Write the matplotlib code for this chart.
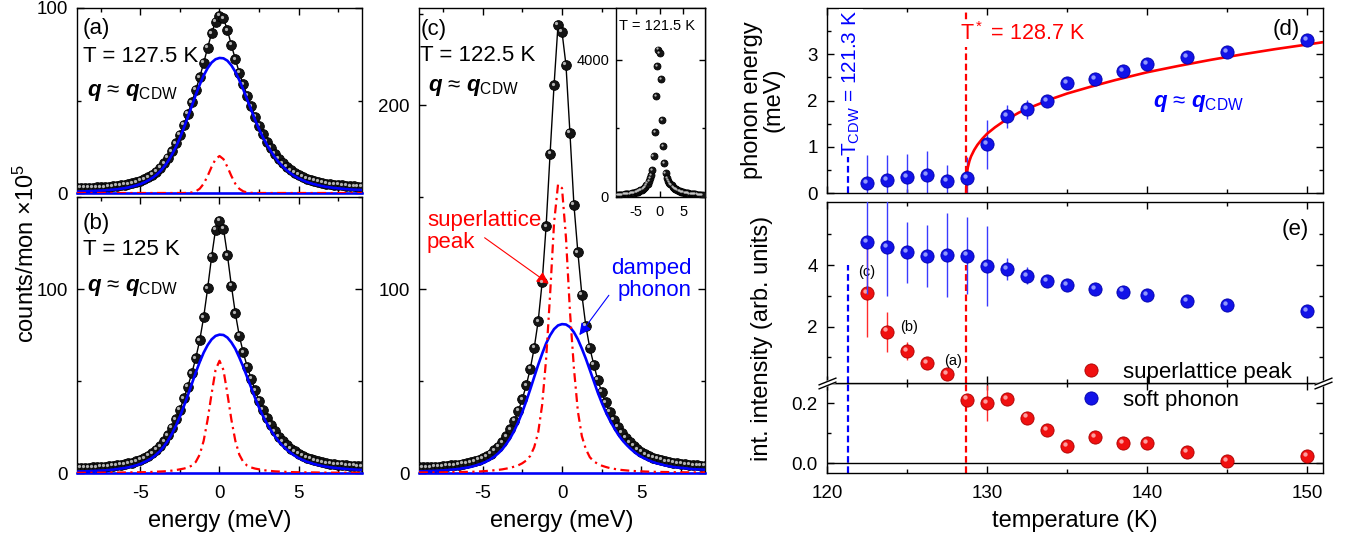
import numpy as np
import matplotlib.pyplot as plt
from matplotlib import transforms
from matplotlib.lines import Line2D
from matplotlib.ticker import FormatStrFormatter

plt.rcParams['font.family'] = ['Liberation Sans', 'DejaVu Sans']
plt.rcParams['mathtext.fontset'] = 'custom'
plt.rcParams['mathtext.rm'] = 'Liberation Sans'
plt.rcParams['mathtext.it'] = 'Liberation Sans:italic'
plt.rcParams['mathtext.bf'] = 'Liberation Sans:bold'
plt.rcParams['mathtext.bfit'] = 'Liberation Sans:italic:bold'
plt.rcParams['axes.unicode_minus'] = False
plt.rcParams['axes.linewidth'] = 1.0

# energy scan grid (meV)
energy = [-9.0, -8.75, -8.5, -8.25, -8.0, -7.75, -7.5, -7.25, -7.0, -6.75, -6.5, -6.25,
          -6.0, -5.75, -5.5, -5.25, -5.0, -4.75, -4.5, -4.25, -4.0, -3.75, -3.5, -3.25,
          -3.0, -2.75, -2.5, -2.25, -2.0, -1.75, -1.5, -1.25, -1.0, -0.75, -0.5, -0.25,
          0.0,
          0.25, 0.5, 0.75, 1.0, 1.25, 1.5, 1.75, 2.0, 2.25, 2.5, 2.75, 3.0,
          3.25, 3.5, 3.75, 4.0, 4.25, 4.5, 4.75, 5.0, 5.25, 5.5, 5.75, 6.0,
          6.25, 6.5, 6.75, 7.0, 7.25, 7.5, 7.75, 8.0, 8.25, 8.5, 8.75, 9.0]

# (a) T = 127.5 K
counts_a = [2.6, 2.7, 2.7, 2.8, 2.9, 3.1, 3.1, 3.2, 3.4, 3.6, 3.8, 4.1,
            4.4, 4.8, 5.2, 5.9, 6.6, 7.5, 8.6, 9.9, 11.6, 13.5, 16.0, 19.0,
            22.6, 26.8, 31.6, 37.0, 42.9, 49.1, 55.7, 62.6, 70.3, 78.5, 86.3, 92.6,
            95.8,
            94.5, 88.0, 80.0, 72.3, 65.1, 58.7, 52.6, 46.9, 41.3, 36.3, 31.8, 27.8,
            24.3, 21.1, 18.4, 16.1, 14.1, 12.4, 10.9, 9.7, 8.7, 7.8, 7.1, 6.5,
            6.0, 5.5, 5.1, 4.8, 4.5, 4.3, 4.1, 3.9, 3.7, 3.6, 3.5, 3.4]
phonon_a = [0.8, 0.85, 0.9, 1.0, 1.1, 1.2, 1.3, 1.4, 1.6, 1.8, 2.0, 2.3,
            2.6, 3.0, 3.5, 4.1, 4.8, 5.7, 6.8, 8.1, 9.7, 11.7, 14.2, 17.2,
            20.8, 25.0, 29.8, 35.2, 41.0, 47.0, 53.0, 58.5, 63.5, 67.5, 70.5, 72.3,
            73.0,
            72.8, 71.5, 69.0, 65.5, 61.0, 56.0, 50.5, 45.0, 39.5, 34.5, 30.0, 26.0,
            22.5, 19.3, 16.6, 14.3, 12.3, 10.6, 9.1, 7.9, 6.9, 6.0, 5.3, 4.7,
            4.2, 3.7, 3.3, 3.0, 2.7, 2.5, 2.3, 2.1, 1.9, 1.8, 1.7, 1.6]
peak_a = [0.0, 0.0, 0.0, 0.0, 0.0, 0.0, 0.0, 0.0, 0.0, 0.0, 0.0, 0.0,
          0.0, 0.0, 0.0, 0.0, 0.0, 0.0, 0.0, 0.0, 0.0, 0.0, 0.0, 0.0,
          0.0, 0.0, 0.0, 0.0, 0.1, 0.3, 0.9, 2.3, 5.0, 9.2, 14.1, 18.3,
          20.0,
          18.3, 14.1, 9.2, 5.0, 2.3, 0.9, 0.3, 0.1, 0.0, 0.0, 0.0, 0.0,
          0.0, 0.0, 0.0, 0.0, 0.0, 0.0, 0.0, 0.0, 0.0, 0.0, 0.0, 0.0,
          0.0, 0.0, 0.0, 0.0, 0.0, 0.0, 0.0, 0.0, 0.0, 0.0, 0.0, 0.0]

# (b) T = 125 K
counts_b = [2.7, 2.8, 2.8, 2.9, 3.1, 3.2, 3.3, 3.4, 3.6, 3.8, 4.1, 4.5,
            4.8, 5.2, 5.7, 6.4, 7.1, 8.1, 9.3, 10.7, 12.5, 14.6, 17.3, 20.6,
            24.5, 29.1, 34.5, 40.5, 47.0, 54.2, 62.4, 72.1, 84.7, 100.3, 117.4, 132.3,
            137.0,
            132.8, 118.4, 101.8, 86.8, 74.6, 65.5, 57.8, 51.2, 44.9, 39.3, 34.3, 29.9,
            26.1, 22.6, 19.7, 17.2, 15.1, 13.2, 11.7, 10.3, 9.3, 8.3, 7.6, 6.9,
            6.4, 5.8, 5.4, 5.1, 4.8, 4.6, 4.4, 4.1, 3.9, 3.8, 3.7, 3.6]
phonon_b = [0.8, 0.9, 0.9, 1.0, 1.1, 1.2, 1.3, 1.4, 1.6, 1.8, 2.1, 2.4,
            2.7, 3.1, 3.6, 4.2, 4.9, 5.9, 7.0, 8.3, 10.0, 12.0, 14.6, 17.7,
            21.4, 25.7, 30.7, 36.3, 42.2, 48.4, 54.6, 60.3, 65.4, 69.5, 72.6, 74.5,
            75.2,
            75.0, 73.6, 71.0, 67.5, 62.8, 57.7, 52.0, 46.4, 40.7, 35.5, 30.9, 26.8,
            23.2, 19.9, 17.1, 14.7, 12.7, 10.9, 9.4, 8.1, 7.1, 6.2, 5.5, 4.8,
            4.3, 3.8, 3.4, 3.1, 2.8, 2.6, 2.4, 2.2, 2.0, 1.9, 1.75, 1.65]
peak_b = [0.1, 0.1, 0.12, 0.13, 0.15, 0.16, 0.18, 0.19, 0.2, 0.22, 0.24, 0.26,
          0.3, 0.32, 0.34, 0.37, 0.4, 0.45, 0.5, 0.6, 0.7, 0.8, 0.9, 1.1,
          1.3, 1.6, 2.0, 2.4, 3.0, 4.0, 6.0, 10.0, 17.5, 29.0, 43.0, 56.0,
          61.0,
          56.0, 43.0, 29.0, 17.5, 10.0, 6.0, 4.0, 3.0, 2.4, 2.0, 1.6, 1.3,
          1.1, 0.9, 0.8, 0.7, 0.6, 0.5, 0.45, 0.4, 0.37, 0.34, 0.32, 0.3,
          0.26, 0.24, 0.22, 0.2, 0.19, 0.18, 0.16, 0.15, 0.13, 0.12, 0.1, 0.1]

# (c) T = 122.5 K
counts_c = [3.0, 3.1, 3.1, 3.2, 3.4, 3.5, 3.6, 3.8, 4.1, 4.3, 4.5, 5.0,
            5.3, 5.8, 6.4, 7.2, 8.1, 9.2, 10.6, 12.3, 14.3, 16.8, 20.0, 23.7,
            28.4, 33.8, 40.2, 47.7, 56.6, 68.0, 82.6, 103.7, 134.3, 173.7, 211.0, 244.0,
            240.0,
            222.0, 185.0, 146.0, 120.0, 97.0, 80.0, 68.0, 59.0, 50.6, 44.1, 38.4, 33.4,
            29.1, 25.2, 21.9, 19.2, 16.8, 14.7, 12.9, 11.5, 10.3, 9.2, 8.4, 7.6,
            7.1, 6.4, 6.0, 5.6, 5.2, 5.0, 4.8, 4.5, 4.2, 4.1, 4.0, 3.9]
phonon_c = [0.9, 0.94, 1.0, 1.1, 1.2, 1.3, 1.4, 1.6, 1.8, 2.0, 2.2, 2.6,
            2.9, 3.3, 3.9, 4.6, 5.3, 6.3, 7.5, 9.0, 10.8, 13.0, 15.8, 19.1,
            23.1, 27.8, 33.1, 39.1, 45.5, 52.2, 58.8, 64.9, 70.5, 74.9, 78.3, 80.3,
            81.0,
            80.8, 79.4, 76.6, 72.7, 67.7, 62.2, 56.1, 50.0, 43.8, 38.3, 33.3, 28.9,
            25.0, 21.4, 18.4, 15.9, 13.7, 11.8, 10.1, 8.8, 7.7, 6.7, 5.9, 5.2,
            4.7, 4.1, 3.7, 3.3, 3.0, 2.8, 2.6, 2.3, 2.1, 2.0, 1.9, 1.8]
peak_c = [0.3, 0.32, 0.33, 0.34, 0.35, 0.37, 0.4, 0.42, 0.45, 0.5, 0.53, 0.57,
          0.6, 0.65, 0.72, 0.8, 0.95, 1.1, 1.3, 1.5, 1.7, 2.0, 2.4, 2.8,
          3.5, 4.2, 5.3, 6.8, 9.3, 14.0, 22.0, 37.0, 62.0, 97.0, 136.0, 157.0,
          155.0,
          128.0, 88.0, 57.0, 33.5, 20.0, 13.0, 8.6, 6.3, 5.0, 4.0, 3.3, 2.7,
          2.3, 1.95, 1.65, 1.45, 1.25, 1.1, 0.95, 0.9, 0.8, 0.72, 0.65, 0.6,
          0.57, 0.53, 0.5, 0.45, 0.42, 0.4, 0.37, 0.35, 0.34, 0.33, 0.32, 0.3]

# inset, T = 121.5 K
counts_in = [55, 58, 60, 63, 66, 69, 72, 76, 80, 84, 89, 94,
             100, 107, 115, 124, 134, 145, 158, 173, 190, 210, 234, 262,
             296, 337, 390, 455, 540, 650, 790, 1180, 1880, 2930, 3800, 4290,
             4180,
             3440, 2230, 1470, 985, 690, 560, 480, 420, 375, 335, 300, 270,
             243, 220, 200, 183, 168, 155, 144, 134, 125, 117, 110, 103,
             97, 92, 87, 82, 78, 74, 70, 67, 64, 61, 59, 56]

# (d), (e) temperature dependence
temps = [122.5, 123.75, 125.0, 126.25, 127.5, 128.75, 130.0, 131.25, 132.5,
         133.75, 135.0, 136.75, 138.5, 140.0, 142.5, 145.0, 150.0]
phonon_energy = [0.22, 0.28, 0.35, 0.39, 0.26, 0.32, 1.05, 1.66, 1.81,
                 1.99, 2.37, 2.46, 2.64, 2.79, 2.93, 3.05, 3.30]
phonon_energy_err = [0.60, 0.55, 0.50, 0.52, 0.35, 0.45, 0.53, 0.25, 0.20,
                     0.12, 0.12, 0.08, 0.08, 0.08, 0.08, 0.08, 0.06]
fit_temps = [128.7, 128.72, 128.75, 128.8, 128.9, 129.0, 129.2, 129.4, 129.7,
             130.0, 130.5, 131.0, 132.0, 133.0, 134.0, 135.0, 136.5, 138.0,
             140.0, 142.0, 144.0, 146.0, 148.0, 150.0, 151.0]
fit_energy = [0.0, 0.32, 0.44, 0.55, 0.69, 0.79, 0.93, 1.04, 1.17,
              1.28, 1.42, 1.54, 1.74, 1.89, 2.03, 2.15, 2.30, 2.44,
              2.61, 2.75, 2.88, 3.00, 3.11, 3.21, 3.26]
sl_intensity = [3.10, 1.84, 1.21, 0.81, 0.45, 0.213, 0.200, 0.214, 0.153,
                0.111, 0.059, 0.087, 0.067, 0.069, 0.037, 0.009, 0.025]
sl_err = [1.45, 0.65, 0.30, 0.10, 0.06, 0.01, 0.06, 0.01, 0.01,
          0.01, 0.01, 0.01, 0.01, 0.01, 0.01, 0.01, 0.01]
ph_intensity = [4.76, 4.60, 4.41, 4.30, 4.33, 4.31, 3.98, 3.87, 3.65,
                3.49, 3.35, 3.22, 3.14, 3.03, 2.83, 2.70, 2.51]
ph_err = [1.70, 1.60, 1.00, 1.00, 1.35, 1.25, 1.30, 0.35, 0.28,
          0.10, 0.08, 0.06, 0.06, 0.06, 0.06, 0.06, 0.06]
T_cdw = 121.3
T_star = 128.7

BLUE = '#0000ff'
RED = '#ff0000'
W, H = 1347, 548

fig = plt.figure(figsize=(W / 100, H / 100), dpi=100)


def box(left, top, right, bottom):
    # pixel box -> figure fraction
    return [left / W, 1 - bottom / H, (right - left) / W, (bottom - top) / H]


def style(ax, size=13.5, xpad=9, ypad=6.5, major=5, minor=3):
    ax.tick_params(which='both', direction='in', top=True, right=True, width=1)
    ax.tick_params(which='major', length=major, labelsize=size)
    ax.tick_params(which='minor', length=minor)
    ax.tick_params(axis='x', pad=xpad)
    ax.tick_params(axis='y', pad=ypad)


def spheres(ax, x, y, face, edge, shine, ms, z=3):
    ax.plot(x, y, 'o', ms=ms, mfc=face, mec=edge, mew=0.6, ls='none', zorder=z)
    glint = transforms.offset_copy(ax.transData, fig=fig, x=-ms * 0.16, y=ms * 0.16, units='points')
    ax.plot(x, y, 'o', ms=ms * 0.33, mfc=shine, mec='none', ls='none', alpha=0.85,
            transform=glint, zorder=z + 0.1)


def spectrum(ax, counts, phonon, peak):
    ax.plot(energy, counts, '-', color='black', lw=1.0, zorder=2)
    spheres(ax, energy, counts, '#151515', 'black', '#d0d0d0', 7)
    ax.axhline(0, color=BLUE, lw=1.8, zorder=4, clip_on=False)
    ax.plot(energy, phonon, '-', color=BLUE, lw=1.9, zorder=4)
    ax.plot(energy, peak, color=RED, lw=1.6, dashes=(4, 2, 1, 2), zorder=5)
    ax.set_xlim(-9, 9)
    ax.set_xticks([-5, 0, 5])
    ax.set_xticks([-7.5, -2.5, 2.5, 7.5], minor=True)
    style(ax)


q_label = r'$\mathbfit{q}$ ≈ $\mathbfit{q}_{\mathrm{CDW}}$'

# ---- (a) ----
ax_a = fig.add_axes(box(77, 8, 362, 193))
spectrum(ax_a, counts_a, phonon_a, peak_a)
ax_a.set_ylim(0, 100)
ax_a.set_yticks([0, 100])
ax_a.set_yticks([50], minor=True)
ax_a.tick_params(labelbottom=False)
ax_a.text(0.02, 0.859, '(a)', transform=ax_a.transAxes, fontsize=16, va='baseline')
ax_a.text(0.02, 0.71, 'T = 127.5 K', transform=ax_a.transAxes, fontsize=16, va='baseline')
ax_a.text(0.035, 0.524, q_label, transform=ax_a.transAxes, fontsize=16, va='baseline')

# ---- (b) ----
ax_b = fig.add_axes(box(77, 197, 362, 473))
spectrum(ax_b, counts_b, phonon_b, peak_b)
ax_b.set_ylim(0, 150)
ax_b.set_yticks([0, 100])
ax_b.set_yticks([50, 150], minor=True)
ax_b.text(0.02, 0.884, '(b)', transform=ax_b.transAxes, fontsize=16, va='baseline')
ax_b.text(0.02, 0.79, 'T = 125 K', transform=ax_b.transAxes, fontsize=16, va='baseline')
ax_b.text(0.035, 0.659, q_label, transform=ax_b.transAxes, fontsize=16, va='baseline')

# ---- (c) ----
ax_c = fig.add_axes(box(419, 8, 705, 473))
spectrum(ax_c, counts_c, phonon_c, peak_c)
ax_c.set_ylim(0, 253)
ax_c.set_yticks([0, 100, 200])
ax_c.set_yticks([50, 150, 250], minor=True)
ax_c.text(0.005, 0.942, '(c)', transform=ax_c.transAxes, fontsize=16, va='baseline')
ax_c.text(0.005, 0.885, 'T = 122.5 K', transform=ax_c.transAxes, fontsize=16, va='baseline')
ax_c.text(0.03, 0.8215, q_label, transform=ax_c.transAxes, fontsize=16, va='baseline')
ax_c.text(-8.5, 143, 'superlattice\npeak', color=RED, fontsize=16, va='top', ha='left',
          linespacing=1.05)
ax_c.annotate('', xy=(-0.83, 103), xytext=(-4.87, 128),
              arrowprops=dict(arrowstyle='-|>', color=RED, lw=0.8, mutation_scale=18,
                              shrinkA=0, shrinkB=0))
ax_c.text(8.15, 117, 'damped\nphonon', color=BLUE, fontsize=16, va='top', ha='right',
          multialignment='right', linespacing=1.05)
ax_c.annotate('', xy=(1.09, 75), xytext=(2.95, 96.7),
              arrowprops=dict(arrowstyle='-|>', color=BLUE, lw=0.8, mutation_scale=18,
                              shrinkA=0, shrinkB=0))

# inset
ax_in = fig.add_axes(box(616, 8, 705, 197))
spheres(ax_in, energy, counts_in, '#151515', 'black', '#d0d0d0', 5.0)
ax_in.set_xlim(-9.1, 9.5)
ax_in.set_ylim(0, 5500)
ax_in.set_xticks([-5, 0, 5])
ax_in.set_yticks([0, 4000])
ax_in.set_yticks([2000], minor=True)
style(ax_in, size=10.5, xpad=6, ypad=5, major=4, minor=2.5)
ax_in.text(0.03, 0.884, 'T = 121.5 K', transform=ax_in.transAxes, fontsize=10.5, va='baseline')

# ---- (d) ----
ax_d = fig.add_axes(box(827, 8, 1323, 193))
ax_d.axvline(T_cdw, color=BLUE, lw=1.6, dashes=(3, 1.6), zorder=1)
ax_d.axvline(T_star, color=RED, lw=1.6, dashes=(3, 1.6), zorder=1)
ax_d.errorbar(temps, phonon_energy, yerr=phonon_energy_err, fmt='none', ecolor='#3a3aff',
              elinewidth=1.0, capsize=0, zorder=2)
ax_d.plot(fit_temps, fit_energy, '-', color=RED, lw=1.9, zorder=3)
spheres(ax_d, temps, phonon_energy, '#1212e8', '#0000a8', '#a8b0ff', 9.5, z=4)
ax_d.set_xlim(120, 151)
ax_d.set_ylim(0, 4.0)
ax_d.set_xticks([120, 130, 140, 150])
ax_d.set_xticks([125, 135, 145], minor=True)
ax_d.set_yticks([0, 1, 2, 3])
ax_d.set_yticks([0.5, 1.5, 2.5, 3.5], minor=True)
style(ax_d)
ax_d.tick_params(labelbottom=False)
ax_d.text(0.899, 0.854, '(d)', transform=ax_d.transAxes, fontsize=16, va='baseline')
ax_d.text(140.4, 1.86, q_label, color=BLUE, fontsize=16, va='baseline')
ax_d.text(128.3, 3.31, r'T$^*$ = 128.7 K', color=RED, fontsize=15.5, va='baseline',
          bbox=dict(facecolor='white', edgecolor='none', pad=1.5), zorder=5)
ax_d.text(121.5, 2.38, r'T$_{\mathrm{CDW}}$ = 121.3 K', color=BLUE, fontsize=15,
          rotation=90, ha='center', va='center',
          bbox=dict(facecolor='white', edgecolor='none', pad=1), zorder=5)

# ---- (e) broken axis ----
e_low_lim = (-0.032, 0.268)
e_up_lim = (0.17, 6.05)
ax_lo = fig.add_axes(box(827, 383, 1323, 473))
ax_up = fig.add_axes(box(827, 202, 1323, 383))

t_arr = np.array(temps)
sl_arr = np.array(sl_intensity)
sl_err_arr = np.array(sl_err)
high = sl_arr > 0.3

for ax in (ax_up, ax_lo):
    ax.set_xlim(120, 151)
    ax.set_xticks([120, 130, 140, 150])
    ax.set_xticks([125, 135, 145], minor=True)
    style(ax)

ax_up.vlines([T_cdw], e_up_lim[0], 4.0, color=BLUE, lw=1.6, linestyles=[(0, (3, 1.6))], zorder=1)
ax_up.vlines([T_star], e_up_lim[0], 4.0, color=RED, lw=1.6, linestyles=[(0, (3, 1.6))], zorder=1)
ax_lo.axvline(T_cdw, color=BLUE, lw=1.6, dashes=(3, 1.6), zorder=1)
ax_lo.axvline(T_star, color=RED, lw=1.6, dashes=(3, 1.6), zorder=1)
ax_lo.axhline(0, color='black', lw=1.0, zorder=1)

ax_up.errorbar(t_arr[high], sl_arr[high], yerr=sl_err_arr[high], fmt='none', ecolor='#ff2a2a',
               elinewidth=1.0, capsize=0, zorder=2)
spheres(ax_up, t_arr[high], sl_arr[high], '#f01010', '#a80000', '#ffb8b8', 9.5, z=3)
ax_up.errorbar(temps, ph_intensity, yerr=ph_err, fmt='none', ecolor='#3a3aff',
               elinewidth=1.0, capsize=0, zorder=4)
spheres(ax_up, temps, ph_intensity, '#1212e8', '#0000a8', '#a8b0ff', 9.5, z=5)
ax_lo.errorbar(t_arr[~high], sl_arr[~high], yerr=sl_err_arr[~high], fmt='none', ecolor='#ff2a2a',
               elinewidth=1.0, capsize=0, zorder=2)
spheres(ax_lo, t_arr[~high], sl_arr[~high], '#f01010', '#a80000', '#ffb8b8', 9.5, z=3)

ax_up.set_ylim(*e_up_lim)
ax_up.set_yticks([2, 4])
ax_up.set_yticks([1, 3, 5], minor=True)
ax_up.tick_params(labelbottom=False)
ax_lo.set_ylim(*e_low_lim)
ax_lo.set_yticks([0.0, 0.2])
ax_lo.set_yticks([0.1], minor=True)
ax_lo.yaxis.set_major_formatter(FormatStrFormatter('%.1f'))

ax_up.text(0.917, 0.818, '(e)', transform=ax_up.transAxes, fontsize=16, va='baseline')
ax_up.text(122.5, 3.78, '(c)', fontsize=10.5, ha='center', va='center')
ax_up.text(125.1, 2.0, '(b)', fontsize=10.5, ha='center', va='center')
ax_up.text(127.9, 0.88, '(a)', fontsize=10.5, ha='center', va='center')

# break marks
slash = [(-1, -0.4), (1, 0.4)]
for xa in (0, 1):
    ax_up.plot([xa], [0], transform=ax_up.transAxes, marker=slash, ms=13, mec='white',
               mew=4, ls='none', clip_on=False, zorder=10)
    for dy in (-1.7, 1.7):
        tr = transforms.offset_copy(ax_up.transAxes, fig=fig, x=0, y=dy, units='points')
        ax_up.plot([xa], [0], transform=tr, marker=slash, ms=13, mec='black', mew=1,
                   ls='none', clip_on=False, zorder=11)

h_sl = Line2D([], [], ls='none', marker='o', ms=9.5, mfc='#f01010', mec='#a80000', mew=0.6)
h_ph = Line2D([], [], ls='none', marker='o', ms=9.5, mfc='#1212e8', mec='#0000a8', mew=0.6)
fig.legend([h_sl, h_ph], ['superlattice peak', 'soft phonon'], loc='upper left',
           bbox_to_anchor=(1080 / W, 1 - 362 / H), frameon=False, fontsize=16,
           handlelength=1.0, handletextpad=0.95, labelspacing=0.32, borderpad=0,
           borderaxespad=0)

# axis labels
fig.text(26 / W, 1 - 253 / H, r'counts/mon ×10$^5$', rotation=90, fontsize=17,
         ha='center', va='center')
fig.text(219.5 / W, 1 - 521 / H, 'energy (meV)', fontsize=17, ha='center', va='center')
fig.text(562 / W, 1 - 521 / H, 'energy (meV)', fontsize=17, ha='center', va='center')
fig.text(1075 / W, 1 - 521 / H, 'temperature (K)', fontsize=17, ha='center', va='center')
fig.text(763 / W, 1 - 100 / H, 'phonon energy\n(meV)', rotation=90, fontsize=17,
         ha='center', va='center', multialignment='center', linespacing=1.0)
fig.text(762 / W, 1 - 338 / H, 'int. intensity (arb. units)', rotation=90, fontsize=17,
         ha='center', va='center')

fig.savefig('out.png', dpi=100)
